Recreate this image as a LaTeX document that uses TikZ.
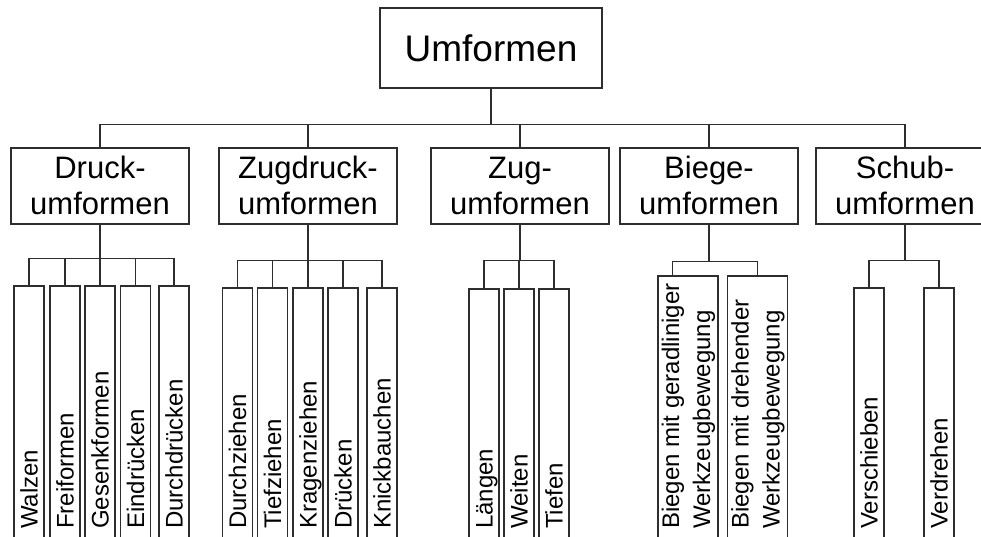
\documentclass[tikz,border=0pt]{standalone}
\usepackage{fontspec}
\setmainfont{Liberation Sans}
\usetikzlibrary{calc}

\begin{document}
\begin{tikzpicture}[x=1pt,y=-1pt,
  line/.style={line width=1.6pt, draw=black!82},
  rootbox/.style={draw=black!82, line width=1.6pt, minimum width=222pt,
    minimum height=80pt, inner sep=0pt, anchor=north,
    font=\fontsize{37}{44}\selectfont},
  groupbox/.style={draw=black!82, line width=1.6pt, minimum width=178pt,
    minimum height=76pt, inner sep=0pt, anchor=north, align=center,
    font=\fontsize{31}{36}\selectfont},
  leafbox/.style={draw=black!82, line width=1.6pt, minimum width=30pt,
    minimum height=300pt, inner sep=0pt, anchor=north},
  wideleafbox/.style={leafbox, minimum width=60pt},
  leaftext/.style={rotate=90, anchor=base west, inner sep=0pt,
    font=\fontsize{24}{30}\selectfont},
  wideleaftext/.style={leaftext, align=left,
    font=\fontsize{24}{31}\selectfont},
]
\useasboundingbox (0,0) rectangle (981,537);
\clip (0,0) rectangle (981,537);

% root
\node[rootbox] (root) at (491,7) {Umformen};

% second level
\node[groupbox] (druck)    at (100,147) {Druck-\\umformen};
\node[groupbox] (zugdruck) at (308,147) {Zugdruck-\\umformen};
\node[groupbox] (zug)      at (520,147) {Zug-\\umformen};
\node[groupbox] (biege)    at (709,147) {Biege-\\umformen};
\node[groupbox] (schub)    at (905,147) {Schub-\\umformen};

\coordinate (hub) at ($(root.south)+(0,36)$);
\draw[line] (root.south) -- (hub);
\draw[line] (druck.north) -- (druck.north |- hub) -- (schub.north |- hub) -- (schub.north);
\foreach \n in {zugdruck,zug,biege}
  \draw[line] (\n.north) -- (\n.north |- hub);

% Druckumformen
\foreach \n/\x/\txt in {d1/29/Walzen, d2/65/Freiformen, d3/100/Gesenkformen,
                        d4/135.5/Eindrücken, d5/174/Durchdrücken}{
  \node[leafbox] (\n) at (\x,285) {};
  \node[leaftext] (\n-t) at (\x+8.6,529) {\txt};
}
\coordinate (dbar) at ($(druck.south)+(0,34)$);
\draw[line] (druck.south) -- (dbar);
\draw[line] (d1.north) |- (d5.north |- dbar) -- (d5.north);
\foreach \n in {d2,d3,d4}
  \draw[line] (\n.north) -- (\n.north |- dbar);

% Zugdruckumformen
\foreach \n/\x/\txt in {z1/237.5/Durchziehen, z2/272.5/Tiefziehen, z3/308/Kragenziehen,
                        z4/343/Drücken, z5/382/Knickbauchen}{
  \node[leafbox] (\n) at (\x,287) {};
  \node[leaftext] (\n-t) at (\x+8.6,529) {\txt};
}
\coordinate (zbar) at ($(zugdruck.south)+(0,36)$);
\draw[line] (zugdruck.south) -- (zbar);
\draw[line] (z1.north) |- (z5.north |- zbar) -- (z5.north);
\foreach \n in {z2,z3,z4}
  \draw[line] (\n.north) -- (\n.north |- zbar);

% Zugumformen
\foreach \n/\x/\txt in {g1/484/Längen, g2/519/Weiten, g3/554/Tiefen}{
  \node[leafbox] (\n) at (\x,288) {};
  \node[leaftext] (\n-t) at (\x+8.6,529) {\txt};
}
\coordinate (gbar) at ($(zug.south)+(0,36)$);
\draw[line] (zug.south) -- (gbar);
\draw[line] (g1.north) |- (g3.north |- gbar) -- (g3.north);
\draw[line] (g2.north) -- (g2.north |- gbar);

% Biegeumformen (two-line labels, anchored on the second baseline)
\node[wideleafbox] (b1) at (688,275) {};
\node[wideleafbox] (b2) at (757.5,275) {};
\node[wideleaftext] (b1-t) at (710,529) {Biegen mit geradliniger\\Werkzeugbewegung};
\node[wideleaftext] (b2-t) at (779.5,529) {Biegen mit drehender\\Werkzeugbewegung};
\coordinate (bbar) at ($(biege.south)+(0,37)$);
\coordinate (b1top) at ($(b1.north west)!0.25!(b1.north east)$);
\draw[line] (biege.south) -- (bbar);
\draw[line] (b1top) |- (b2.north |- bbar) -- (b2.north);

% Schubumformen
\foreach \n/\x/\txt in {s1/869/Verschieben, s2/939/Verdrehen}{
  \node[leafbox] (\n) at (\x,287) {};
  \node[leaftext] (\n-t) at (\x+8.6,529) {\txt};
}
\coordinate (sbar) at ($(schub.south)+(0,36)$);
\draw[line] (schub.south) -- (sbar);
\draw[line] (s1.north) |- (s2.north |- sbar) -- (s2.north);
\end{tikzpicture}
\end{document}
